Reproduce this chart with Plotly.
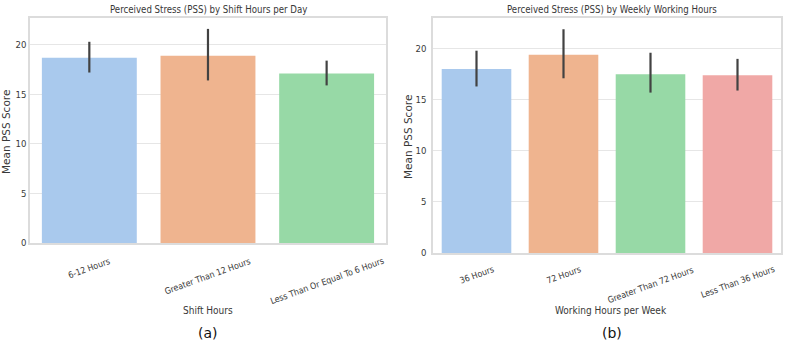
import plotly.graph_objects as go

# Panel (a)
shift_cats = ["6-12 Hours", "Greater Than 12 Hours", "Less Than Or Equal To 6 Hours"]
shift_mean = [18.7, 18.9, 17.1]
shift_lo = [17.2, 16.4, 15.9]
shift_hi = [20.3, 21.6, 18.4]

# Panel (b)
week_cats = ["36 Hours", "72 Hours", "Greater Than 72 Hours", "Less Than 36 Hours"]
week_mean = [18.0, 19.4, 17.5, 17.4]
week_lo = [16.3, 17.1, 15.7, 15.9]
week_hi = [19.8, 21.9, 19.6, 19.0]

y_ticks = [0, 5, 10, 15, 20]
colors = ["#a9c9ed", "#efb48f", "#97d9a6", "#f0a8a6"]

W, H = 793, 343
NARROW = "DejaVu Sans Condensed, DejaVu Sans, sans-serif"
GREY = "#383838"

fig = go.Figure()

def add_panel(cats, means, lo, hi, xa, ya):
    fig.add_trace(go.Bar(
        x=cats, y=means, xaxis=xa, yaxis=ya,
        marker=dict(color=colors[:len(cats)], line=dict(width=0)),
        width=0.8, showlegend=False,
        error_y=dict(type="data", symmetric=False,
                     array=[h - m for h, m in zip(hi, means)],
                     arrayminus=[m - l for m, l in zip(means, lo)],
                     color="#424242", thickness=2.2, width=0),
    ))

add_panel(shift_cats, shift_mean, shift_lo, shift_hi, "x", "y")
add_panel(week_cats, week_mean, week_lo, week_hi, "x2", "y2")

def px_x(p):
    return p / W

def px_y(p):
    return 1 - p / H

ax_common = dict(showline=True, mirror=True, linecolor="#dcdcdc", linewidth=1.5,
                 zeroline=False, automargin=False)
fig.update_layout(
    width=W, height=H, margin=dict(l=0, r=0, t=0, b=0, autoexpand=False),
    plot_bgcolor="white", paper_bgcolor="white", bargap=0.2,
    font=dict(family=NARROW, color=GREY, size=10),
    xaxis=dict(domain=[px_x(30), px_x(386)], showticklabels=False, showgrid=False,
               ticks="", anchor="y", **ax_common),
    yaxis=dict(domain=[px_y(243), px_y(18)], range=[0, 22.7], tickvals=y_ticks,
               showgrid=True, gridcolor="#e6e6e6", gridwidth=1.2, ticks="",
               ticklabelstandoff=0, tickfont=dict(size=9.5, color=GREY, family=NARROW),
               anchor="x", **ax_common),
    xaxis2=dict(domain=[px_x(433), px_x(781)], showticklabels=False, showgrid=False,
                ticks="", anchor="y2", **ax_common),
    yaxis2=dict(domain=[px_y(253), px_y(18)], range=[0, 23.0], tickvals=y_ticks,
                showgrid=True, gridcolor="#e6e6e6", gridwidth=1.2, ticks="",
                ticklabelstandoff=3, tickfont=dict(size=9.5, color=GREY, family=NARROW),
                anchor="x2", **ax_common),
)

ann = []
# rotated category labels
for cats, xa, ytop in [(shift_cats, "x", 254), (week_cats, "x2", 263)]:
    for c in cats:
        ann.append(dict(x=c, xref=xa, y=px_y(ytop), yref="paper", text=c,
                        textangle=-20, showarrow=False, xanchor="center",
                        yanchor="top", borderpad=0,
                        font=dict(size=8.8, color=GREY, family=NARROW)))
# titles, axis titles, panel labels
texts = [
    ("Perceived Stress (PSS) by Shift Hours per Day", 208, 9, 9.6, 0, NARROW, GREY),
    ("Perceived Stress (PSS) by Weekly Working Hours", 612, 9, 9.6, 0, NARROW, GREY),
    ("Shift Hours", 208, 310, 10, 0, NARROW, GREY),
    ("Working Hours per Week", 611, 310, 10, 0, NARROW, GREY),
    ("(a)", 208, 333, 14, 0, "DejaVu Sans", "#111111"),
    ("(b)", 612, 333, 14, 0, "DejaVu Sans", "#111111"),
    ("Mean PSS Score", 6, 132, 10.5, -90, "DejaVu Sans", GREY),
    ("Mean PSS Score", 408, 137, 10.5, -90, "DejaVu Sans", GREY),
]
for t, x, y, s, ang, fam, col in texts:
    ann.append(dict(x=px_x(x), y=px_y(y), xref="paper", yref="paper", text=t,
                    showarrow=False, xanchor="center", yanchor="middle",
                    textangle=ang, borderpad=0,
                    font=dict(size=s, color=col, family=fam)))
fig.update_layout(annotations=ann)

fig.write_html("out.html")
